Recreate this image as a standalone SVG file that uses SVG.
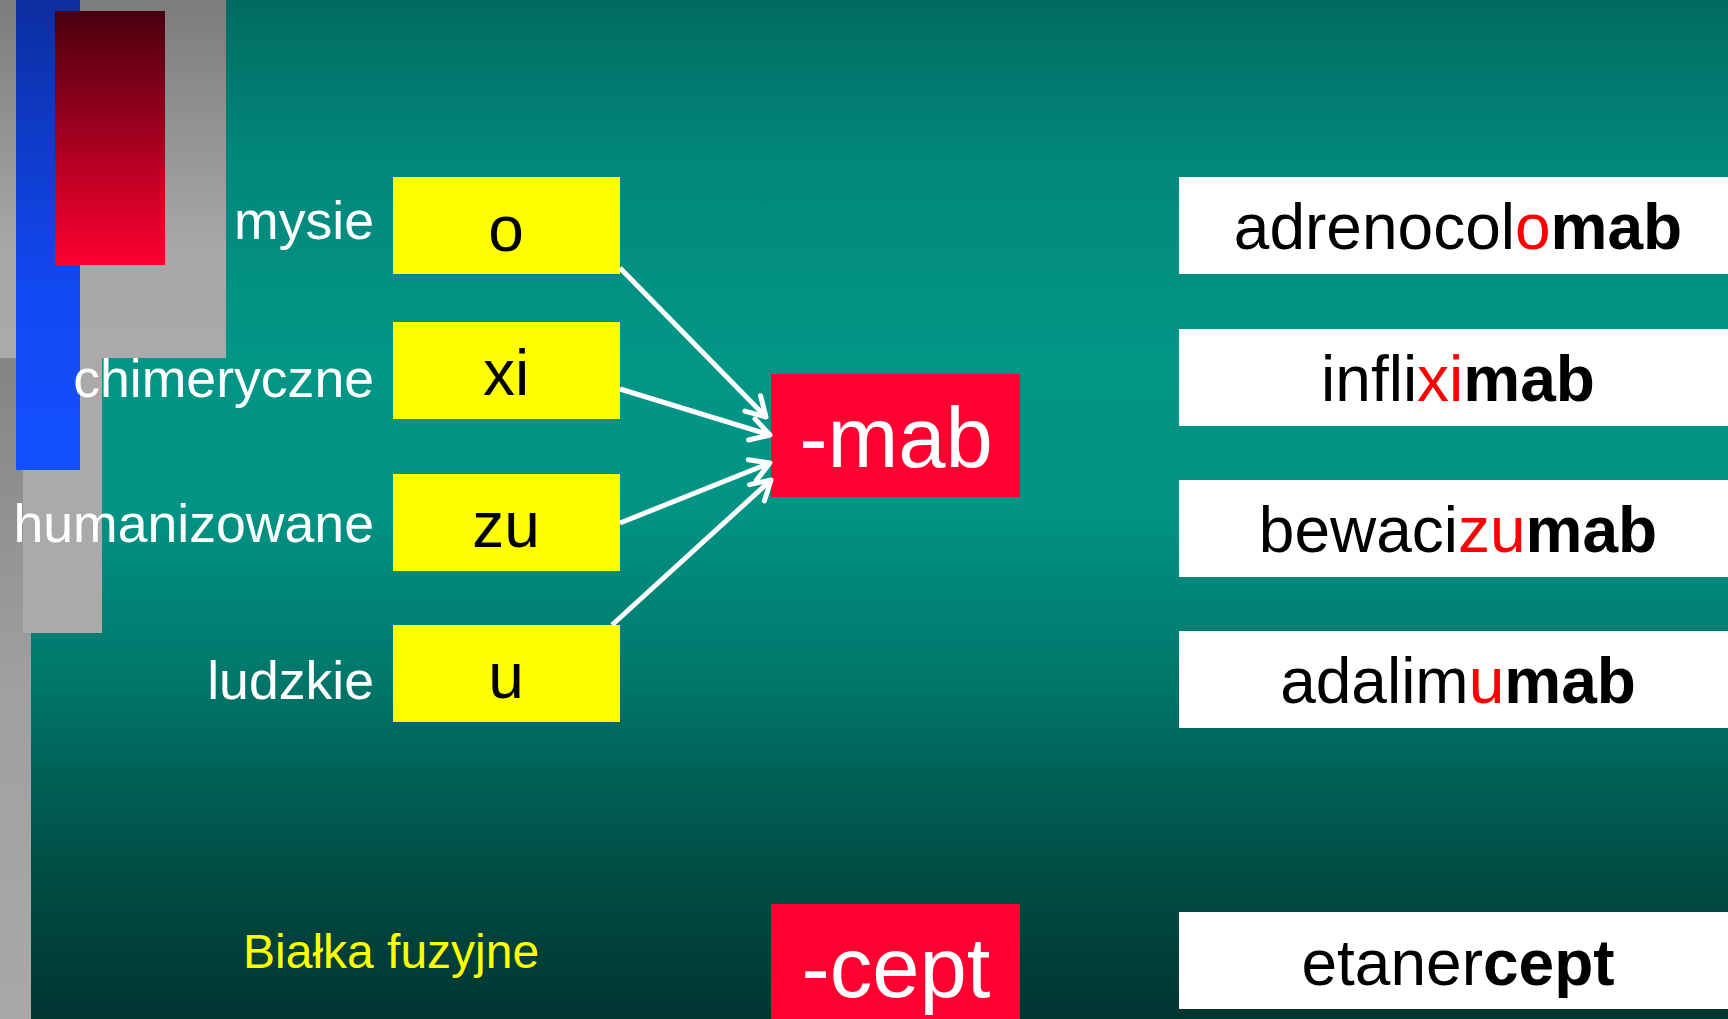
<svg xmlns="http://www.w3.org/2000/svg" width="1728" height="1019" viewBox="0 0 1728 1019">
<defs>
  <linearGradient id="bg" x1="0" y1="0" x2="0" y2="1">
    <stop offset="0" stop-color="#006b61"/>
    <stop offset="0.15" stop-color="#02867a"/>
    <stop offset="0.35" stop-color="#029687"/>
    <stop offset="0.5" stop-color="#029384"/>
    <stop offset="0.65" stop-color="#007a6d"/>
    <stop offset="0.85" stop-color="#004e45"/>
    <stop offset="1" stop-color="#003530"/>
  </linearGradient>
  <linearGradient id="grayTop" x1="0" y1="0" x2="0" y2="1">
    <stop offset="0" stop-color="#7c7c7c"/>
    <stop offset="0.7" stop-color="#a8a8a8"/>
    <stop offset="1" stop-color="#aaaaaa"/>
  </linearGradient>
  <linearGradient id="grayStrip" x1="0" y1="0" x2="0" y2="1">
    <stop offset="0" stop-color="#848484"/>
    <stop offset="0.5" stop-color="#a0a0a0"/>
    <stop offset="1" stop-color="#a8a8a8"/>
  </linearGradient>
  <linearGradient id="blue" x1="0" y1="0" x2="0" y2="1">
    <stop offset="0" stop-color="#0c2ea0"/>
    <stop offset="0.6" stop-color="#1248f0"/>
    <stop offset="1" stop-color="#1450ff"/>
  </linearGradient>
  <linearGradient id="red" x1="0" y1="0" x2="0" y2="1">
    <stop offset="0" stop-color="#48000e"/>
    <stop offset="1" stop-color="#ff0030"/>
  </linearGradient>
  <marker id="arrow" markerUnits="userSpaceOnUse" markerWidth="40" markerHeight="40" viewBox="-30 -20 40 40" refX="0" refY="0" orient="auto">
    <path d="M -19 -11 L 0 0 L -19 11" fill="none" stroke="#ffffff" stroke-width="5" stroke-linecap="round" stroke-linejoin="round"/>
  </marker>
</defs>
<style>
  text { font-family: "Liberation Sans", Arial, Helvetica, sans-serif; }
  .lbl { fill: #ffffff; font-size: 53.6px; text-anchor: end; }
  .ybox { fill: #ffff00; }
  .ytxt { fill: #000000; font-size: 64px; text-anchor: middle; }
  .rbox { fill: #ff0030; }
  .rtxt { fill: #ffffff; font-size: 85px; text-anchor: middle; }
  .wbox { fill: #ffffff; }
  .wtxt { fill: #000000; font-size: 64px; text-anchor: middle; }
  .hl { fill: #ff0000; }
  .b { font-weight: bold; }
  .conn { stroke: #ffffff; stroke-width: 5; fill: none; marker-end: url(#arrow); }
</style>

<rect x="0" y="0" width="1728" height="1019" fill="url(#bg)"/>

<g id="decor">
  <rect x="0" y="0" width="226" height="358" fill="url(#grayTop)"/>
  <rect x="0" y="358" width="31" height="661" fill="url(#grayStrip)"/>
  <rect x="23" y="358" width="79" height="275" fill="#aaaaaa"/>
  <rect x="16" y="0" width="64" height="470" fill="url(#blue)"/>
  <rect x="55" y="11" width="110" height="254" fill="url(#red)"/>
</g>

<g id="labels">
  <text class="lbl" x="374" y="239">mysie</text>
  <text class="lbl" x="374" y="397">chimeryczne</text>
  <text class="lbl" x="374" y="542">humanizowane</text>
  <text class="lbl" x="374" y="699">ludzkie</text>
</g>

<g id="node-o">
  <rect class="ybox" x="393" y="177" width="227" height="97"/>
  <text class="ytxt" x="506" y="251">o</text>
</g>
<g id="node-xi">
  <rect class="ybox" x="393" y="322" width="227" height="97"/>
  <text class="ytxt" x="506" y="395">xi</text>
</g>
<g id="node-zu">
  <rect class="ybox" x="393" y="474" width="227" height="97"/>
  <text class="ytxt" x="506" y="547">zu</text>
</g>
<g id="node-u">
  <rect class="ybox" x="393" y="625" width="227" height="97"/>
  <text class="ytxt" x="506" y="698">u</text>
</g>

<g id="node-mab">
  <rect class="rbox" x="771" y="374" width="249" height="123"/>
  <text class="rtxt" x="896" y="467">-mab</text>
</g>

<g id="node-cept">
  <rect class="rbox" x="771" y="904" width="249" height="115"/>
  <text class="rtxt" x="896" y="997">-cept</text>
</g>

<g id="node-bialka">
  <text x="243" y="968" fill="#ffff00" font-size="48">Białka fuzyjne</text>
</g>

<g id="connectors">
  <line class="conn" x1="620" y1="268" x2="766" y2="417"/>
  <line class="conn" x1="620" y1="389" x2="770" y2="435"/>
  <line class="conn" x1="620" y1="523" x2="770" y2="463"/>
  <line class="conn" x1="612" y1="625" x2="771" y2="480"/>
</g>

<g id="ex-adrenocolomab">
  <rect class="wbox" x="1179" y="177" width="549" height="97"/>
  <text class="wtxt" x="1458" y="249">adrenocol<tspan class="hl">o</tspan><tspan class="b">mab</tspan></text>
</g>
<g id="ex-infliximab">
  <rect class="wbox" x="1179" y="329" width="549" height="97"/>
  <text class="wtxt" x="1458" y="401">infli<tspan class="hl">xi</tspan><tspan class="b">mab</tspan></text>
</g>
<g id="ex-bewacizumab">
  <rect class="wbox" x="1179" y="480" width="549" height="97"/>
  <text class="wtxt" x="1458" y="552">bewaci<tspan class="hl">zu</tspan><tspan class="b">mab</tspan></text>
</g>
<g id="ex-adalimumab">
  <rect class="wbox" x="1179" y="631" width="549" height="97"/>
  <text class="wtxt" x="1458" y="703">adalim<tspan class="hl">u</tspan><tspan class="b">mab</tspan></text>
</g>
<g id="ex-etanercept">
  <rect class="wbox" x="1179" y="912" width="549" height="97"/>
  <text class="wtxt" x="1458" y="985">etaner<tspan class="b">cept</tspan></text>
</g>
</svg>
